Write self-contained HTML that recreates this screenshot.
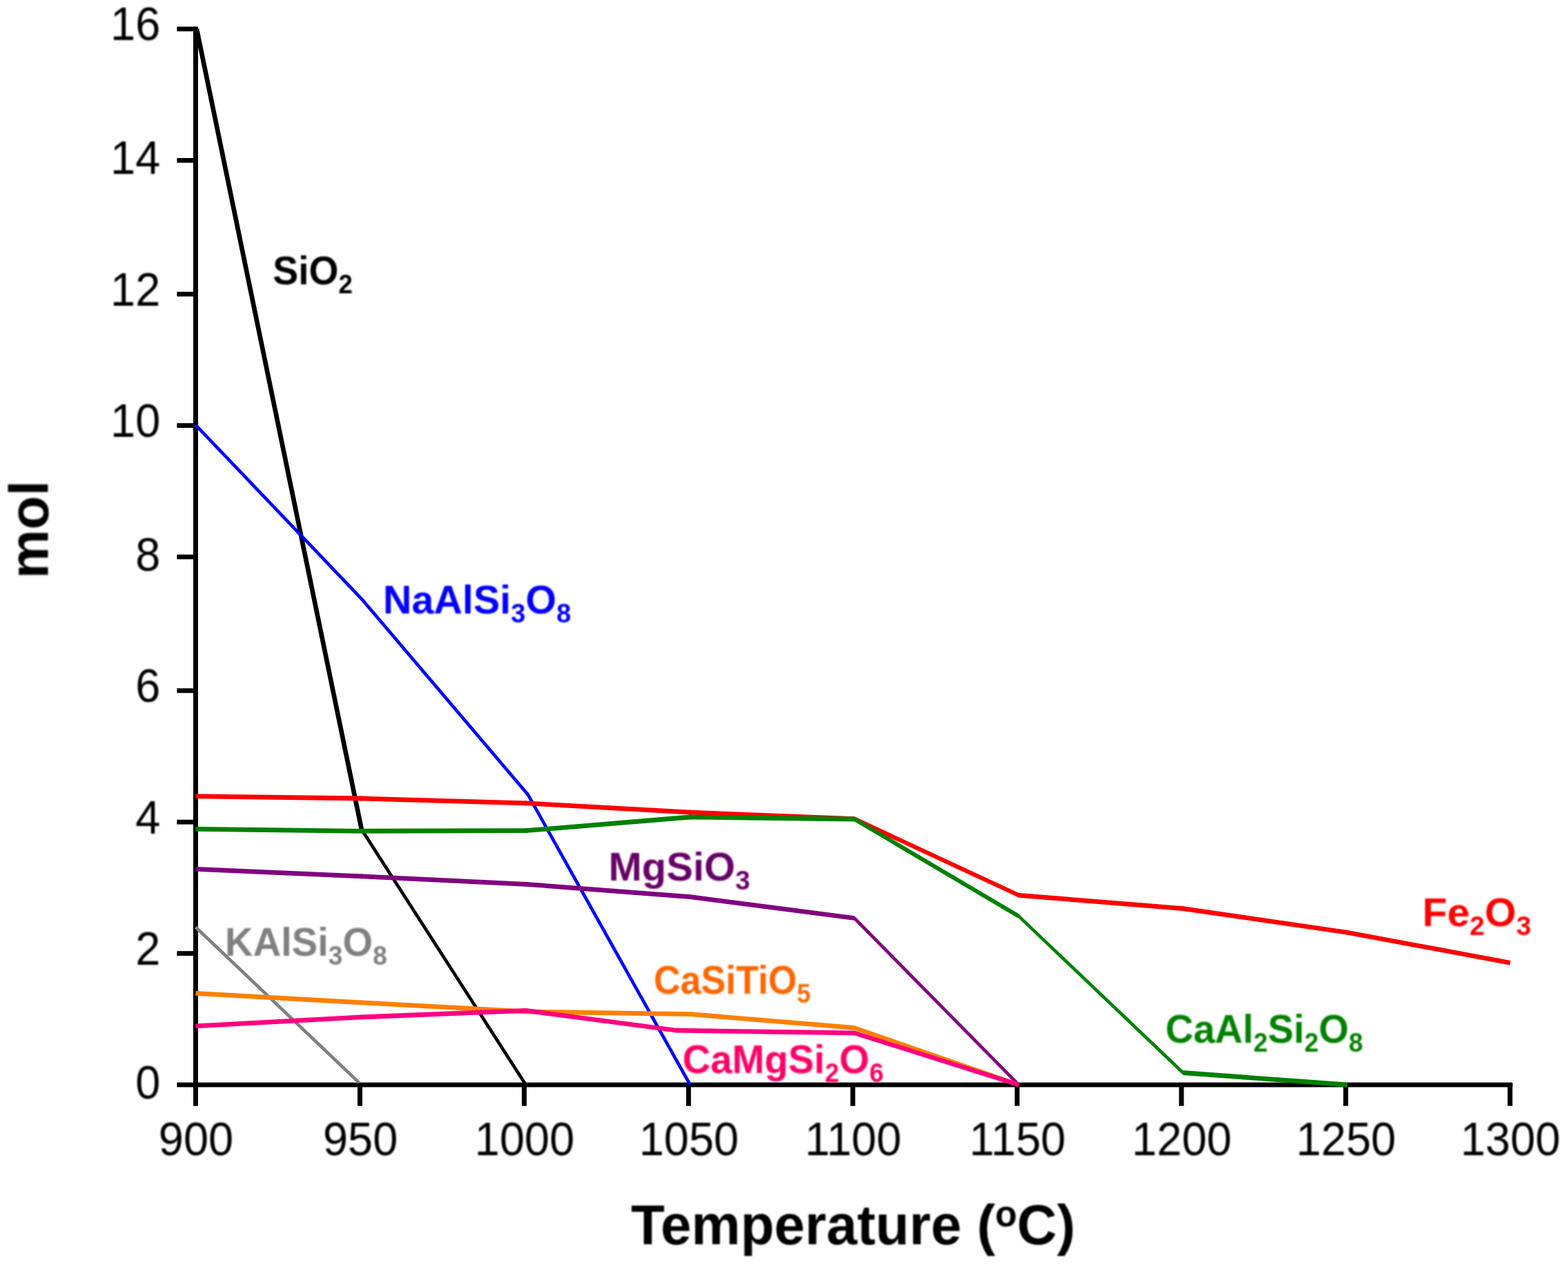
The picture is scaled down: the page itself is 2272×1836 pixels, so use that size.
<!DOCTYPE html>
<html lang="en">
<head>
<meta charset="utf-8">
<title>Mineral phase abundance vs temperature</title>
<style>
html,body{margin:0;padding:0;background:#fff;}
body{width:2272px;height:1836px;overflow:hidden;}
svg{display:block;}
text{font-family:"Liberation Sans",sans-serif;}
.tick{font-size:68px;fill:#000;}
.title{font-weight:bold;fill:#000;}
.lab{font-weight:bold;}
</style>
</head>
<body>
<svg width="2272" height="1836" viewBox="0 0 2272 1836">
<defs><filter id="soft" x="-5%" y="-20%" width="110%" height="140%"><feGaussianBlur stdDeviation="1"/></filter></defs>
<rect x="0" y="0" width="2272" height="1836" fill="#ffffff"/>

<g fill="#000">
<rect x="280" y="38.6" width="7" height="1536.8"/>
<rect x="280" y="1568.6" width="1911.5" height="6.8"/>
<rect x="256.4" y="1568.60" width="26" height="6.8"/>
<rect x="256.4" y="1378.20" width="26" height="6.8"/>
<rect x="256.4" y="1187.80" width="26" height="6.8"/>
<rect x="256.4" y="997.40" width="26" height="6.8"/>
<rect x="256.4" y="803.60" width="26" height="6.8"/>
<rect x="256.4" y="613.20" width="26" height="6.8"/>
<rect x="256.4" y="422.80" width="26" height="6.8"/>
<rect x="256.4" y="229.00" width="26" height="6.8"/>
<rect x="256.4" y="38.60" width="26" height="6.8"/>
<rect x="280.00" y="1570" width="7" height="32.6"/>
<rect x="518.06" y="1570" width="7" height="32.6"/>
<rect x="756.12" y="1570" width="7" height="32.6"/>
<rect x="994.19" y="1570" width="7" height="32.6"/>
<rect x="1232.25" y="1570" width="7" height="32.6"/>
<rect x="1470.31" y="1570" width="7" height="32.6"/>
<rect x="1708.38" y="1570" width="7" height="32.6"/>
<rect x="1946.44" y="1570" width="7" height="32.6"/>
<rect x="2184.50" y="1570" width="7" height="32.6"/>
</g>
<g class="tick" filter="url(#soft)">
<text transform="translate(232.3 1591.8) scale(0.956 1)" text-anchor="end">0</text>
<text transform="translate(232.3 1398.0) scale(0.956 1)" text-anchor="end">2</text>
<text transform="translate(232.3 1207.6) scale(0.956 1)" text-anchor="end">4</text>
<text transform="translate(232.3 1017.2) scale(0.956 1)" text-anchor="end">6</text>
<text transform="translate(232.3 826.8) scale(0.956 1)" text-anchor="end">8</text>
<text transform="translate(232.3 633.0) scale(0.956 1)" text-anchor="end">10</text>
<text transform="translate(232.3 442.6) scale(0.956 1)" text-anchor="end">12</text>
<text transform="translate(232.3 252.2) scale(0.956 1)" text-anchor="end">14</text>
<text transform="translate(232.3 58.4) scale(0.956 1)" text-anchor="end">16</text>
<text transform="translate(284.0 1674.2) scale(0.956 1)" text-anchor="middle">900</text>
<text transform="translate(522.1 1674.2) scale(0.956 1)" text-anchor="middle">950</text>
<text transform="translate(760.1 1674.2) scale(0.956 1)" text-anchor="middle">1000</text>
<text transform="translate(998.2 1674.2) scale(0.956 1)" text-anchor="middle">1050</text>
<text transform="translate(1236.2 1674.2) scale(0.956 1)" text-anchor="middle">1100</text>
<text transform="translate(1474.3 1674.2) scale(0.956 1)" text-anchor="middle">1150</text>
<text transform="translate(1712.4 1674.2) scale(0.956 1)" text-anchor="middle">1200</text>
<text transform="translate(1950.4 1674.2) scale(0.956 1)" text-anchor="middle">1250</text>
<text transform="translate(2188.5 1674.2) scale(0.956 1)" text-anchor="middle">1300</text>
</g>
<g fill="none" stroke-linecap="butt">
<g stroke="#000000" fill="#000000">
<line x1="285.0" y1="42.0" x2="523.9" y2="1201.9" stroke-width="6.7"/>
<line x1="523.9" y1="1201.9" x2="761.9" y2="1572.0" stroke-width="4.7"/>
<circle cx="523.9" cy="1201.9" r="2.35" stroke="none"/>
</g>
<g stroke="#0000FF" fill="#0000FF">
<line x1="283.5" y1="615.8" x2="523.9" y2="867.8" stroke-width="4.7"/>
<line x1="523.9" y1="867.8" x2="764.8" y2="1151.2" stroke-width="4.7"/>
<line x1="764.8" y1="1151.2" x2="1000.0" y2="1572.0" stroke-width="4.7"/>
<circle cx="523.9" cy="867.8" r="2.35" stroke="none"/>
<circle cx="764.8" cy="1151.2" r="2.35" stroke="none"/>
</g>
<g stroke="#808080" fill="#808080">
<line x1="283.5" y1="1343.5" x2="520.5" y2="1569.1" stroke-width="4.7"/>
</g>
<g stroke="#FF0000" fill="#FF0000">
<line x1="283.5" y1="1153.9" x2="523.9" y2="1157.0" stroke-width="6.8"/>
<line x1="523.9" y1="1157.0" x2="761.9" y2="1163.9" stroke-width="6.8"/>
<line x1="761.9" y1="1163.9" x2="1000.0" y2="1177.2" stroke-width="6.8"/>
<line x1="1000.0" y1="1177.2" x2="1238.0" y2="1186.6" stroke-width="6.8"/>
<line x1="1238.0" y1="1186.6" x2="1476.1" y2="1297.3" stroke-width="6.2"/>
<line x1="1476.1" y1="1297.3" x2="1714.2" y2="1316.6" stroke-width="6.8"/>
<line x1="1714.2" y1="1316.6" x2="1952.2" y2="1351.2" stroke-width="6.7"/>
<line x1="1952.2" y1="1351.2" x2="2188.3" y2="1395.2" stroke-width="6.7"/>
<circle cx="523.9" cy="1157.0" r="3.40" stroke="none"/>
<circle cx="761.9" cy="1163.9" r="3.39" stroke="none"/>
<circle cx="1000.0" cy="1177.2" r="3.39" stroke="none"/>
<circle cx="1238.0" cy="1186.6" r="3.08" stroke="none"/>
<circle cx="1476.1" cy="1297.3" r="3.08" stroke="none"/>
<circle cx="1714.2" cy="1316.6" r="3.36" stroke="none"/>
<circle cx="1952.2" cy="1351.2" r="3.34" stroke="none"/>
</g>
<g stroke="#008000" fill="#008000">
<line x1="283.5" y1="1201.4" x2="523.9" y2="1204.3" stroke-width="6.8"/>
<line x1="523.9" y1="1204.3" x2="761.9" y2="1203.7" stroke-width="6.8"/>
<line x1="761.9" y1="1203.7" x2="1000.0" y2="1184.0" stroke-width="6.8"/>
<line x1="1000.0" y1="1184.0" x2="1238.0" y2="1187.0" stroke-width="6.8"/>
<line x1="1238.0" y1="1187.0" x2="1476.1" y2="1327.6" stroke-width="5.9"/>
<line x1="1476.1" y1="1327.6" x2="1714.2" y2="1554.5" stroke-width="4.7"/>
<line x1="1714.2" y1="1554.5" x2="1952.2" y2="1572.0" stroke-width="6.8"/>
<circle cx="523.9" cy="1204.3" r="3.40" stroke="none"/>
<circle cx="761.9" cy="1203.7" r="3.39" stroke="none"/>
<circle cx="1000.0" cy="1184.0" r="3.39" stroke="none"/>
<circle cx="1238.0" cy="1187.0" r="2.93" stroke="none"/>
<circle cx="1476.1" cy="1327.6" r="2.35" stroke="none"/>
<circle cx="1714.2" cy="1554.5" r="2.35" stroke="none"/>
</g>
<g stroke="#800080" fill="#800080">
<line x1="283.5" y1="1259.3" x2="523.9" y2="1269.8" stroke-width="6.8"/>
<line x1="523.9" y1="1269.8" x2="761.9" y2="1281.3" stroke-width="6.8"/>
<line x1="761.9" y1="1281.3" x2="1000.0" y2="1299.6" stroke-width="6.8"/>
<line x1="1000.0" y1="1299.6" x2="1238.0" y2="1330.5" stroke-width="6.7"/>
<line x1="1238.0" y1="1330.5" x2="1476.1" y2="1572.0" stroke-width="4.7"/>
<circle cx="523.9" cy="1269.8" r="3.40" stroke="none"/>
<circle cx="761.9" cy="1281.3" r="3.39" stroke="none"/>
<circle cx="1000.0" cy="1299.6" r="3.37" stroke="none"/>
<circle cx="1238.0" cy="1330.5" r="2.35" stroke="none"/>
</g>
<g stroke="#FF8000" fill="#FF8000">
<line x1="283.5" y1="1439.3" x2="523.9" y2="1452.9" stroke-width="6.8"/>
<line x1="523.9" y1="1452.9" x2="761.9" y2="1465.9" stroke-width="6.8"/>
<line x1="761.9" y1="1465.9" x2="1000.0" y2="1469.6" stroke-width="6.8"/>
<line x1="1000.0" y1="1469.6" x2="1238.0" y2="1489.4" stroke-width="6.8"/>
<line x1="1238.0" y1="1489.4" x2="1476.1" y2="1572.0" stroke-width="6.4"/>
<circle cx="523.9" cy="1452.9" r="3.39" stroke="none"/>
<circle cx="761.9" cy="1465.9" r="3.40" stroke="none"/>
<circle cx="1000.0" cy="1469.6" r="3.39" stroke="none"/>
<circle cx="1238.0" cy="1489.4" r="3.21" stroke="none"/>
</g>
<g stroke="#FF0080" fill="#FF0080">
<line x1="283.5" y1="1486.8" x2="523.9" y2="1473.9" stroke-width="6.8"/>
<line x1="523.9" y1="1473.9" x2="761.9" y2="1464.4" stroke-width="6.8"/>
<line x1="761.9" y1="1464.4" x2="980.9" y2="1493.2" stroke-width="6.7"/>
<line x1="980.9" y1="1493.2" x2="1238.0" y2="1496.9" stroke-width="6.8"/>
<line x1="1238.0" y1="1496.9" x2="1476.1" y2="1572.0" stroke-width="6.5"/>
<circle cx="523.9" cy="1473.9" r="3.40" stroke="none"/>
<circle cx="761.9" cy="1464.4" r="3.37" stroke="none"/>
<circle cx="980.9" cy="1493.2" r="3.37" stroke="none"/>
<circle cx="1238.0" cy="1496.9" r="3.24" stroke="none"/>
</g>
</g>
<g filter="url(#soft)">
<text class="title" transform="translate(1236.2 1803) scale(0.976 1)" font-size="82" text-anchor="middle">Temperature (<tspan font-size="53" dy="-26.5">o</tspan><tspan dy="26.5">C)</tspan></text>
<text class="title" transform="translate(69.5 767.5) rotate(-90)" font-size="80" text-anchor="middle">mol</text>
</g>
<g filter="url(#soft)">
<text class="lab" fill="#000000" transform="translate(395.2 412) scale(0.9552 1)" font-size="58">SiO<tspan font-size="38.5" dy="13">2</tspan></text>
<text class="lab" fill="#0000FF" transform="translate(554.9 888.5) scale(0.9916 1)" font-size="58">NaAlSi<tspan font-size="38.5" dy="13">3</tspan><tspan dy="-13">O</tspan><tspan font-size="38.5" dy="13">8</tspan></text>
<text class="lab" fill="#660066" transform="translate(881.7 1275.5) scale(1.0004 1)" font-size="58">MgSiO<tspan font-size="38.5" dy="13">3</tspan></text>
<text class="lab" fill="#808080" transform="translate(326.1 1385) scale(0.968 1)" font-size="58">KAlSi<tspan font-size="38.5" dy="13">3</tspan><tspan dy="-13">O</tspan><tspan font-size="38.5" dy="13">8</tspan></text>
<text class="lab" fill="#FF6600" transform="translate(947.3 1440) scale(0.9238 1)" font-size="58">CaSiTiO<tspan font-size="38.5" dy="13">5</tspan></text>
<text class="lab" fill="#FF0066" transform="translate(988.9 1555) scale(0.97 1)" font-size="58">CaMgSi<tspan font-size="38.5" dy="13">2</tspan><tspan dy="-13">O</tspan><tspan font-size="38.5" dy="13">6</tspan></text>
<text class="lab" fill="#008000" transform="translate(1688.7 1510.5) scale(0.9661 1)" font-size="58">CaAl<tspan font-size="38.5" dy="13">2</tspan><tspan dy="-13">Si</tspan><tspan font-size="38.5" dy="13">2</tspan><tspan dy="-13">O</tspan><tspan font-size="38.5" dy="13">8</tspan></text>
<text class="lab" fill="#FF0000" transform="translate(2061 1341.5) scale(1.0132 1)" font-size="58">Fe<tspan font-size="38.5" dy="13">2</tspan><tspan dy="-13">O</tspan><tspan font-size="38.5" dy="13">3</tspan></text>
</g>
</svg>
</body>
</html>
